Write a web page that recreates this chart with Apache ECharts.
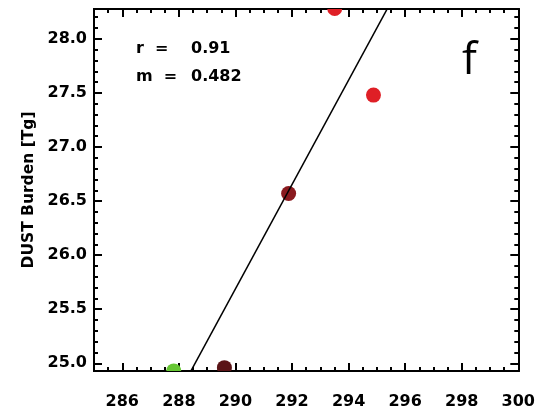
<!DOCTYPE html>
<html>
<head>
<meta charset="utf-8">
<script src="https://cdn.jsdelivr.net/npm/echarts@6/dist/echarts.min.js"></script>
<style>
  html, body { margin: 0; padding: 0; background: #fff; }
  #chart { width: 538px; height: 412px; }
</style>
</head>
<body>
<div id="chart"></div>
<script>
// scatter points (x: temperature-ish, y: dust burden)
var pointX = [293.51, 294.88, 291.88, 289.61, 287.82];
var pointY = [28.28, 27.48, 26.57, 24.96, 24.93];
var pointColors = ['#df1f26', '#df1f26', '#8a1a1f', '#5a1417', '#66c633'];

// regression line ends (clipped by the grid)
var fitX = [288.2, 295.6];
var fitY = [24.82, 28.39];

var xTicks = [286, 288, 290, 292, 294, 296, 298, 300];
var yTicks = [25.0, 25.5, 26.0, 26.5, 27.0, 27.5, 28.0];

var xMin = 285, xMax = 300;
var yMin = 24.929, yMax = 28.276;

var xMinor = [];
for (var v = 285.5; v < 300; v += 0.5) xMinor.push(+v.toFixed(1));
var yMinor = [];
for (var w = 25.0; w < 28.3; w += 0.1) yMinor.push(+w.toFixed(1));

var FONT = 'DejaVu Sans';

function xAx(pos, minor, labels) {
  return {
    type: 'value', position: pos, min: xMin, max: xMax,
    axisLine: { show: true, onZero: false, lineStyle: { color: '#000', width: 2 } },
    axisTick: { show: true, inside: true, length: minor ? 4 : 8,
      customValues: minor ? xMinor : xTicks, lineStyle: { color: '#000', width: 2 } },
    axisLabel: labels ? { show: true, customValues: xTicks, margin: 23,
      color: '#000', fontFamily: FONT, fontWeight: 'bold', fontSize: 16 } : { show: false },
    splitLine: { show: false }
  };
}
function yAx(pos, minor, labels) {
  return {
    type: 'value', position: pos, min: yMin, max: yMax,
    axisLine: { show: true, onZero: false, lineStyle: { color: '#000', width: 2 } },
    axisTick: { show: true, inside: true, length: minor ? 4 : 8,
      customValues: minor ? yMinor : yTicks, lineStyle: { color: '#000', width: 2 } },
    axisLabel: labels ? { show: true, customValues: yTicks, margin: 7,
      formatter: function (val) { return val.toFixed(1); },
      color: '#000', fontFamily: FONT, fontWeight: 'bold', fontSize: 16 } : { show: false },
    splitLine: { show: false }
  };
}

var yMain = yAx('left', false, true);
yMain.name = 'DUST Burden [Tg]';
yMain.nameLocation = 'middle';
yMain.nameGap = 53;
yMain.nameTextStyle = { color: '#000', fontFamily: FONT, fontWeight: 'bold', fontSize: 15.5 };

var chart = echarts.init(document.getElementById('chart'));
chart.setOption({
  animation: false,
  backgroundColor: '#fff',
  grid: { left: 94, right: 16, top: 9, bottom: 41, containLabel: false },
  xAxis: [xAx('bottom', false, true), xAx('top', false, false), xAx('bottom', true, false), xAx('top', true, false)],
  yAxis: [yMain, yAx('right', false, false), yAx('left', true, false), yAx('right', true, false)],
  graphic: [
    { type: 'text', left: 136, top: 41, style: { text: 'r  =', fill: '#000', font: 'bold 16px "DejaVu Sans"' } },
    { type: 'text', left: 191, top: 41, style: { text: '0.91', fill: '#000', font: 'bold 16px "DejaVu Sans"' } },
    { type: 'text', left: 136, top: 69, style: { text: 'm  =', fill: '#000', font: 'bold 16px "DejaVu Sans"' } },
    { type: 'text', left: 191, top: 69, style: { text: '0.482', fill: '#000', font: 'bold 16px "DejaVu Sans"' } },
    { type: 'text', left: 462, top: 39, style: { text: 'f', fill: '#000', font: '44px "Open Sans"' } }
  ],
  series: [
    {
      type: 'custom',
      xAxisIndex: 0, yAxisIndex: 0,
      clip: true,
      z: 2,
      encode: { x: 0, y: 1 },
      data: pointX.map(function (x, i) { return [x, pointY[i], i]; }),
      renderItem: function (params, api) {
        var p = api.coord([api.value(0), api.value(1)]);
        return { type: 'circle', shape: { cx: p[0], cy: p[1], r: 7.5 },
          style: { fill: pointColors[api.value(2)] } };
      }
    },
    {
      type: 'line',
      xAxisIndex: 0, yAxisIndex: 0,
      z: 3,
      symbol: 'none',
      clip: true,
      lineStyle: { color: '#000', width: 1.5 },
      data: fitX.map(function (x, i) { return [x, fitY[i]]; })
    }
  ]
});
</script>
</body>
</html>
